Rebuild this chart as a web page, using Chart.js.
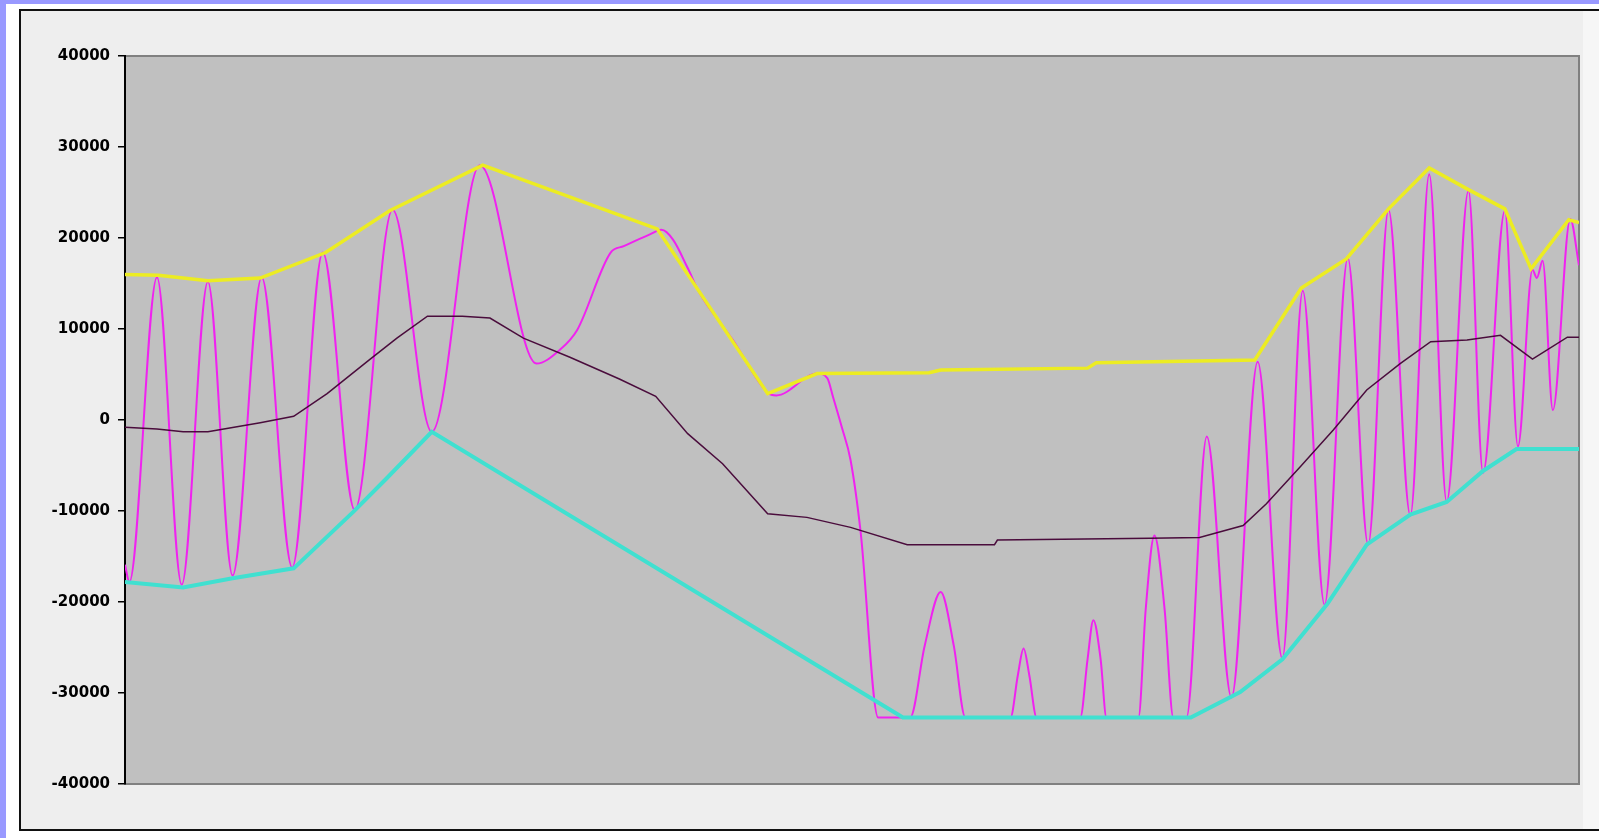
<!DOCTYPE html>
<html>
<head>
<meta charset="utf-8">
<script src="https://cdn.jsdelivr.net/npm/chart.js@4.4.1/dist/chart.umd.min.js"></script>
<style>
  html, body { margin: 0; padding: 0; width: 1599px; height: 838px; overflow: hidden; background: #ffffff; }
  .edge-left { position: absolute; left: 0; top: 0; width: 6px; height: 838px; background: #9999ff; }
  .edge-top { position: absolute; left: 0; top: 0; width: 1599px; height: 4px; background: #9999ff; }
  .frame { position: absolute; left: 19px; top: 9px; width: 1700px; height: 818px; border: 2px solid #111; background: #eeeeee; }
  .frame canvas { position: absolute; left: 0; top: 0; }
  .glare { position: absolute; left: 1583px; top: 11px; width: 16px; height: 818px; background: #f6f6f6; }
</style>
</head>
<body>
<div class="edge-left"></div>
<div class="edge-top"></div>
<div class="frame"><canvas id="chart" width="1578" height="818"></canvas></div>
<div class="glare"></div>
<script>
// sample position (0..1000 across the plot) and value pairs
const yTicks = [-40000, -30000, -20000, -10000, 0, 10000, 20000, 30000, 40000];

// oscillating signal (clipped at the bottom around -32700)
const signal = [
  [0, -15900], [3, -17800], [22, 15700], [39, -18100], [57, 15200], [74, -17100],
  [94, 15700], [115, -16200], [136, 18400], [158, -9900], [184, 23100], [211, -1300],
  [244, 28000], [283, 6200], [299, 7700], [311, 9900], [334, 18400], [343, 19100],
  [361, 20400], [369, 20900], [377, 19800], [387, 16700], [395, 14000], [418, 8800],
  [442, 3000], [448, 2700], [476, 5100], [483, 4600], [487, 2500], [493, -800],
  [499, -4400], [506, -12400], [518, -32700], [540, -32700], [550, -24800], [561, -18900],
  [570, -24800], [578, -32700], [609, -32700], [614, -28100], [618, -25100], [622, -28100],
  [627, -32700], [657, -32700], [662, -26300], [666, -22000], [671, -26300], [675, -32700],
  [697, -32700], [702, -20800], [708, -12700], [715, -20800], [721, -32700], [730, -32700],
  [744, -1800], [761, -30500], [779, 6400], [796, -26200], [810, 14200], [825, -20300],
  [841, 17800], [855, -13700], [869, 23100], [884, -10500], [897, 27000], [909, -9000],
  [924, 25200], [934, -5800], [949, 23000], [958, -2900], [968, 16500], [971, 15600],
  [975, 17500], [982, 1100], [994, 22100], [1000, 17000]
];

// upper envelope (yellow)
const upperEnvelope = [
  [0, 16000], [23, 15900], [57, 15300], [93, 15600], [138, 18400], [182, 23000],
  [246, 28000], [366, 21000], [442, 2900], [476, 5100], [553, 5200], [561, 5500],
  [662, 5700], [668, 6300], [777, 6600], [809, 14500], [840, 17700], [869, 23200],
  [897, 27700], [923, 25400], [949, 23200], [967, 16600], [993, 22000], [1000, 21700]
];

// lower envelope (cyan)
const lowerEnvelope = [
  [0, -17800], [40, -18400], [74, -17400], [116, -16300], [157, -10100], [180, -6400],
  [211, -1300], [535, -32700], [733, -32700], [767, -29900], [796, -26300], [827, -20200],
  [854, -13700], [884, -10400], [909, -9000], [934, -5600], [957, -3200], [1000, -3200]
];

// running mean (dark purple)
const runningMean = [
  [0, -800], [22, -1000], [40, -1300], [57, -1300], [93, -300], [116, 400],
  [139, 2900], [168, 6600], [187, 9000], [208, 11400], [232, 11400], [251, 11200],
  [274, 9000], [306, 6900], [340, 4500], [365, 2600], [387, -1500], [411, -4800],
  [442, -10300], [469, -10700], [499, -11800], [538, -13700], [598, -13700], [600, -13200],
  [705, -13000], [739, -12900], [769, -11600], [785, -9200], [808, -5200], [831, -1100],
  [854, 3300], [877, 6200], [898, 8600], [923, 8800], [946, 9300], [968, 6700],
  [992, 9100], [1000, 9100]
];

const toPoints = pairs => pairs.map(p => ({ x: p[0], y: p[1] }));

const series = (pairs, color, width) => ({
    data: toPoints(pairs),
    borderColor: color,
    borderWidth: width,
    pointRadius: 0,
    fill: false,
    tension: 0
});

// Grey plot area with its darker frame
const plotBackground = {
    id: 'plotBackground',
    beforeDraw(chart) {
        const { ctx, chartArea: a } = chart;
        ctx.save();
        ctx.fillStyle = '#c0c0c0';
        ctx.fillRect(a.left, a.top, a.right - a.left, a.bottom - a.top);
        ctx.strokeStyle = '#808080';
        ctx.lineWidth = 2;
        ctx.strokeRect(a.left, a.top, a.right - a.left, a.bottom - a.top);
        ctx.restore();
    }
};

const ctx = document.getElementById('chart').getContext('2d');

// first dataset is drawn on top
new Chart(ctx, {
    type: 'line',
    data: {
        datasets: [
            series(lowerEnvelope, '#40e0d0', 4),
            series(upperEnvelope, '#ecec22', 3.5),
            series(runningMean, '#4a0c3c', 1.5),
            { ...series(signal, '#f022f0', 2), cubicInterpolationMode: 'monotone' }
        ]
    },
    options: {
        responsive: false,
        animation: false,
        devicePixelRatio: 1,
        layout: { padding: { left: 0, top: 45, right: 20, bottom: 45 } },
        scales: {
            x: { type: 'linear', min: 0, max: 1000, display: false },
            y: {
                min: -40000,
                max: 40000,
                afterFit: scale => { scale.width = 104; },
                afterBuildTicks: scale => { scale.ticks = yTicks.map(v => ({ value: v })); },
                ticks: {
                    color: '#000',
                    padding: 8,
                    font: { family: 'DejaVu Sans', weight: 'bold', size: 15 },
                    callback: value => String(value)
                },
                grid: { drawOnChartArea: false, tickLength: 7, color: '#000', lineWidth: 1.5 },
                border: { display: true, color: '#000', width: 2 }
            }
        },
        plugins: {
            legend: { display: false },
            tooltip: { enabled: false }
        }
    },
    plugins: [plotBackground]
});
</script>
</body>
</html>
